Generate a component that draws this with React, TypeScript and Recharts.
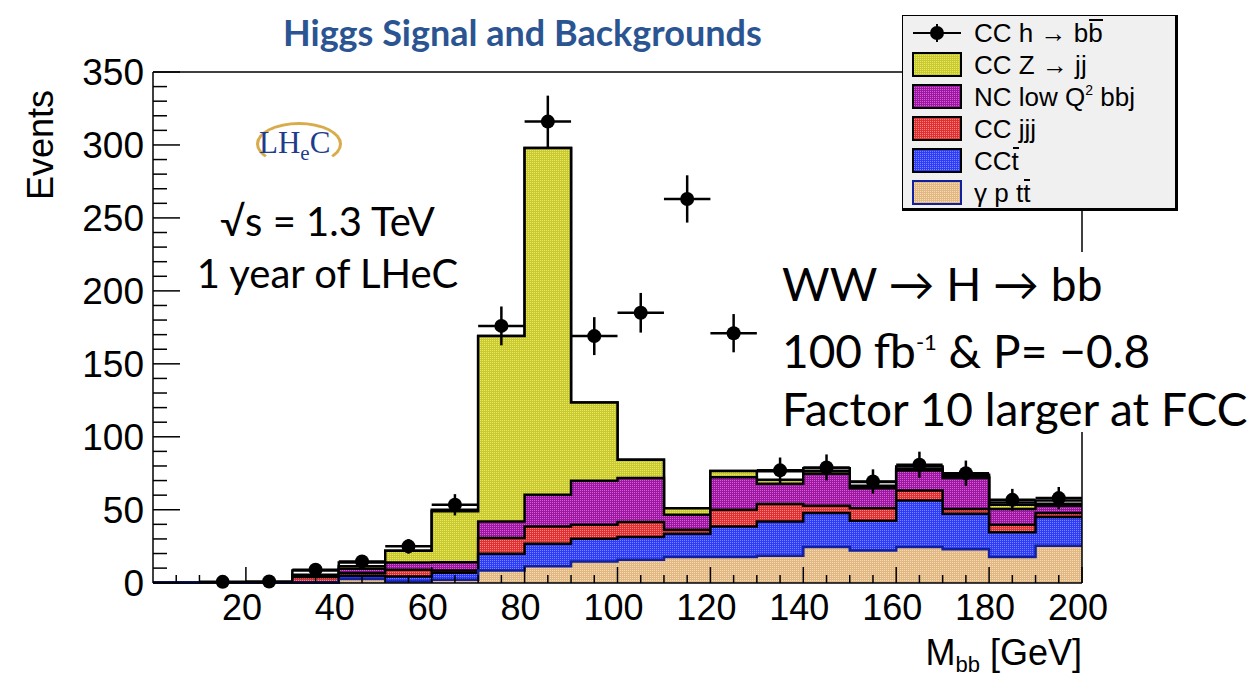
import {
  Area,
  ComposedChart,
  ErrorBar,
  Legend,
  ReferenceLine,
  Scatter,
  XAxis,
  YAxis,
} from "recharts";

// 10 GeV bins, lower edges
const binStarts = [0, 10, 20, 30, 40, 50, 60, 70, 80, 90, 100, 110, 120, 130, 140, 150, 160, 170, 180, 190];

// background components, events per bin (bottom of the stack first)
const gammaPTT = [0, 0, 0, 0, 2.5, 0.9, 2.0, 8.4, 11.2, 14.6, 15.8, 17.6, 17.6, 18.5, 24.4, 22.1, 24.4, 23.0, 17.6, 25.3];
const ccTbar = [0, 0, 0, 0.3, 2.3, 3.4, 4.8, 11.5, 15.5, 15.5, 15.5, 16.0, 21.0, 23.5, 23.3, 20.4, 32.0, 24.3, 16.9, 19.7];
const ccJJJ = [0, 0, 0, 3.6, 1.8, 4.6, 1.6, 10.7, 11.9, 9.6, 10.3, 2.7, 11.4, 11.9, 5.0, 8.6, 6.8, 3.2, 5.2, 2.7];
const ncLowQ2 = [0, 0, 0, 0.5, 3.0, 5.0, 5.6, 11.4, 21.7, 30.2, 30.1, 10.3, 22.2, 13.9, 22.0, 13.7, 13.7, 21.2, 10.8, 5.0];
const ccZjj = [0, 0, 0, 1.1, 1.6, 8.0, 35.0, 127.0, 237.7, 53.6, 12.5, 4.5, 4.3, 2.7, 1.6, 1.7, 1.1, 0.8, 2.9, 1.4];
const residual = [0, 0, 0, 2.9, 2.7, 0, 1.0, 0, 0, 0, 0, 0, 0, 5.8, 2.2, 2.5, 1.7, 1.5, 1.6, 2.3];

// CC h -> bb points at bin centres
const signalMass = [15, 25, 35, 45, 55, 65, 75, 85, 95, 105, 115, 125, 135, 145, 155, 165, 175, 185, 195];
const signalEvents = [0.6, 0.8, 8.9, 14.6, 24.9, 53.4, 176, 316, 169, 185, 263, 171, 77, 79, 69.4, 80.8, 75, 56.8, 58];
const signalErr = [0.8, 0.9, 3.0, 3.8, 5.0, 7.3, 13.3, 17.8, 13.0, 13.6, 16.2, 13.1, 8.8, 8.9, 8.3, 9.0, 8.7, 7.5, 7.6];

const xTicks = [5, 10, 15, 20, 25, 30, 35, 40, 45, 50, 55, 60, 65, 70, 75, 80, 85, 90, 95, 100, 105, 110, 115, 120, 125, 130, 135, 140, 145, 150, 155, 160, 165, 170, 175, 180, 185, 190, 195, 200];
const yTicks = [0, 10, 20, 30, 40, 50, 60, 70, 80, 90, 100, 110, 120, 130, 140, 150, 160, 170, 180, 190, 200, 210, 220, 230, 240, 250, 260, 270, 280, 290, 300, 310, 320, 330, 340, 350];

const fills = [
  { id: "pat-tan", base: "#e2b880", dot: "#f3dcbc" },
  { id: "pat-blue", base: "#2c3cf8", dot: "#7c86ff" },
  { id: "pat-red", base: "#e23030", dot: "#f28686" },
  { id: "pat-mag", base: "#a016a4", dot: "#cc64cc" },
  { id: "pat-yel", base: "#caca2c", dot: "#e6e672" },
];

const stackKeys = ["tan", "blue", "red", "mag", "yel", "all"];
const stackParts = [gammaPTT, ccTbar, ccJJJ, ncLowQ2, ccZjj, residual];

// cumulative step table, one extra row closes the last bin at 200
const histRows = [...binStarts, 200].map((x, i) => {
  const b = Math.min(i, binStarts.length - 1);
  const row: Record<string, number> = { x };
  let sum = 0;
  stackKeys.forEach((k, j) => {
    sum += stackParts[j][b];
    row[k] = sum;
  });
  return row;
});

const signalRows = signalMass.map((m, i) => ({
  x: m,
  y: signalEvents[i],
  ex: 5,
  ey: signalErr[i],
}));

// antiparticle bar drawn as a short rule above the letter
const bar = (s: string) => (
  <span style={{ position: "relative" }}>
    {s}
    <span style={{ position: "absolute", left: 1, right: 0, top: 1, borderTop: "2.5px solid #000" }} />
  </span>
);

const legendItems = [
  { label: <>CC h → b{bar("b")}</>, fill: "", border: "" },
  { label: <>CC Z → jj</>, fill: "pat-yel", border: "#000" },
  { label: <>NC low Q<sup style={{ fontSize: 14, verticalAlign: 11 }}>2</sup>&nbsp;bbj</>, fill: "pat-mag", border: "#000" },
  { label: <>CC jjj</>, fill: "pat-red", border: "#000" },
  { label: <>CC{bar("t")}</>, fill: "pat-blue", border: "#000" },
  { label: <>γ p t{bar("t")}</>, fill: "pat-tan", border: "#1020a0" },
];

const axisFont = "'Liberation Sans', Arial, sans-serif";

function XTick({ x, y, payload }: any) {
  const v = payload.value as number;
  const major = v % 20 === 0;
  return (
    <g>
      <line x1={x} x2={x} y1={y} y2={y - (major ? 16 : 8)} stroke="#000" strokeWidth={1.5} />
      {major && (
        <text x={x - 4} y={y + 37} textAnchor="middle" fontSize={36} fontFamily={axisFont} fill="#000">
          {v}
        </text>
      )}
    </g>
  );
}

function YTick({ x, y, payload }: any) {
  const v = payload.value as number;
  const major = v % 50 === 0;
  return (
    <g>
      <line x1={x} x2={x + (major ? 27 : 14)} y1={y} y2={y} stroke="#000" strokeWidth={1.5} />
      {major && (
        <text x={x - 9} y={y + 13} textAnchor="end" fontSize={37} fontFamily={axisFont} fill="#000">
          {v}
        </text>
      )}
    </g>
  );
}

function Dot({ cx, cy }: any) {
  return <circle cx={cx} cy={cy} r={7} fill="#000" />;
}

function LegendBox() {
  return (
    <div
      style={{
        boxSizing: "border-box",
        width: 276,
        height: 196,
        background: "#f0f0f0",
        border: "1.5px solid #000",
        borderRight: "3px solid #000",
        borderBottom: "3px solid #000",
        padding: "1px 0 0 9px",
        overflow: "hidden",
        fontFamily: axisFont,
        fontSize: 26,
        color: "#000",
      }}
    >
      {legendItems.map((it, i) => (
        <div key={i} style={{ display: "flex", alignItems: "center", height: 32 }}>
          <svg width={52} height={28} style={{ marginRight: 10, flex: "none" }}>
            {it.fill ? (
              <rect x={1} y={2} width={48} height={23} fill={`url(#${it.fill})`} stroke={it.border} strokeWidth={2} />
            ) : (
              <g stroke="#000" strokeWidth={2}>
                <line x1={1} x2={49} y1={14} y2={14} />
                <line x1={25} x2={25} y1={5} y2={23} />
                <circle cx={25} cy={14} r={6} fill="#000" />
              </g>
            )}
          </svg>
          <span style={{ whiteSpace: "nowrap" }}>{it.label}</span>
        </div>
      ))}
    </div>
  );
}

const gill = "Lato, 'Open Sans', sans-serif";

export default function App() {
  return (
    <div style={{ position: "absolute", left: 0, top: 0, width: 1253, height: 683, background: "#fff", overflow: "hidden" }}>
      <ComposedChart width={1253} height={683} data={histRows} margin={{ top: 72, right: 171, bottom: 0, left: 0 }}>
        <defs>
          {fills.map((f) => (
            <pattern key={f.id} id={f.id} width={2} height={2} patternUnits="userSpaceOnUse">
              <rect width={2} height={2} fill={f.base} />
              <rect width={1} height={1} fill={f.dot} />
            </pattern>
          ))}
        </defs>
        <XAxis
          type="number"
          dataKey="x"
          domain={[0, 200]}
          ticks={xTicks}
          interval={0}
          height={100}
          tickSize={0}
          tickMargin={0}
          tickLine={false}
          tick={<XTick />}
          axisLine={{ stroke: "#000", strokeWidth: 1.5 }}
          label={({ viewBox }: any) => (
            <text x={viewBox.x + viewBox.width} y={viewBox.y + 82} textAnchor="end" fontSize={36} fontFamily={axisFont} fill="#000">
              M<tspan fontSize={22} dy={7}>bb</tspan>
              <tspan dy={-7}> [GeV]</tspan>
            </text>
          )}
        />
        <YAxis
          type="number"
          domain={[0, 350]}
          ticks={yTicks}
          interval={0}
          width={153}
          tickSize={0}
          tickMargin={0}
          tickLine={false}
          tick={<YTick />}
          axisLine={{ stroke: "#000", strokeWidth: 1.5 }}
          label={({ viewBox }: any) => (
            <text
              x={viewBox.x + 53}
              y={viewBox.y + 18}
              transform={`rotate(-90 ${viewBox.x + 53} ${viewBox.y + 18})`}
              textAnchor="end"
              fontSize={36}
              fontFamily={axisFont}
              fill="#000"
            >
              Events
            </text>
          )}
        />
        <ReferenceLine y={350} stroke="#000" strokeWidth={1.5} />
        <ReferenceLine x={200} stroke="#000" strokeWidth={1.5} />

        {/* drawn from the full stack down so each lower component sits on top */}
        <Area type="stepAfter" dataKey="all" stroke="#000" strokeWidth={2.5} fill="#fff" fillOpacity={1} isAnimationActive={false} dot={false} activeDot={false} />
        <Area type="stepAfter" dataKey="yel" name="CC Z → jj" stroke="#000" strokeWidth={2.5} fill="url(#pat-yel)" fillOpacity={1} isAnimationActive={false} dot={false} activeDot={false} />
        <Area type="stepAfter" dataKey="mag" name="NC low Q2 bbj" stroke="#000" strokeWidth={2.5} fill="url(#pat-mag)" fillOpacity={1} isAnimationActive={false} dot={false} activeDot={false} />
        <Area type="stepAfter" dataKey="red" name="CC jjj" stroke="#000" strokeWidth={2.5} fill="url(#pat-red)" fillOpacity={1} isAnimationActive={false} dot={false} activeDot={false} />
        <Area type="stepAfter" dataKey="blue" name="CC tbar" stroke="#000" strokeWidth={2.5} fill="url(#pat-blue)" fillOpacity={1} isAnimationActive={false} dot={false} activeDot={false} />
        <Area type="stepAfter" dataKey="tan" name="gamma p ttbar" stroke="#1020a0" strokeWidth={2.5} fill="url(#pat-tan)" fillOpacity={1} isAnimationActive={false} dot={false} activeDot={false} />

        <Scatter data={signalRows} dataKey="y" name="CC h → bb" shape={<Dot />} isAnimationActive={false}>
          <ErrorBar dataKey="ex" direction="x" width={0} stroke="#000" strokeWidth={2.5} isAnimationActive={false} />
          <ErrorBar dataKey="ey" direction="y" width={0} stroke="#000" strokeWidth={2.5} isAnimationActive={false} />
        </Scatter>

        <Legend
          layout="vertical"
          align="center"
          verticalAlign="middle"
          wrapperStyle={{ left: 902, top: 15, width: 276, height: 196 }}
          content={() => <LegendBox />}
        />
      </ComposedChart>

      <div style={{ position: "absolute", left: 283, top: 10, fontFamily: gill, fontWeight: 700, fontSize: 36, color: "#2b5592", whiteSpace: "nowrap" }}>
        Higgs Signal and Backgrounds
      </div>

      <div style={{ position: "absolute", left: 256, top: 122, width: 86, height: 44 }}>
        <div style={{ position: "absolute", left: 0, top: 0, width: 80, height: 38, borderRadius: "50%", border: "3px solid #d8ac4a", borderBottomColor: "transparent" }} />
        <div style={{ position: "absolute", left: 3, top: 3, fontFamily: "'Liberation Serif', serif", fontSize: 31, color: "#1e3c8c", whiteSpace: "nowrap" }}>
          LH<span style={{ fontSize: 21, verticalAlign: -7 }}>e</span>C
        </div>
      </div>

      <div style={{ position: "absolute", left: 170, top: 195, width: 315, textAlign: "center", fontFamily: gill, fontSize: 40, lineHeight: "52px", color: "#000" }}>
        <div>√s = 1.3 TeV</div>
        <div>1 year of LHeC</div>
      </div>

      <div style={{ position: "absolute", left: 772, top: 252, width: 481, height: 180, background: "#fff", fontFamily: gill, fontSize: 46, lineHeight: "58px", color: "#000", paddingLeft: 10, paddingTop: 3, boxSizing: "border-box", whiteSpace: "nowrap" }}>
        <div>WW → H → bb</div>
        <div>
          100 fb<sup style={{ fontSize: 22, verticalAlign: 18 }}>-1</sup> &amp; P= −0.8
        </div>
        <div>Factor 10 larger at FCC</div>
      </div>
    </div>
  );
}
